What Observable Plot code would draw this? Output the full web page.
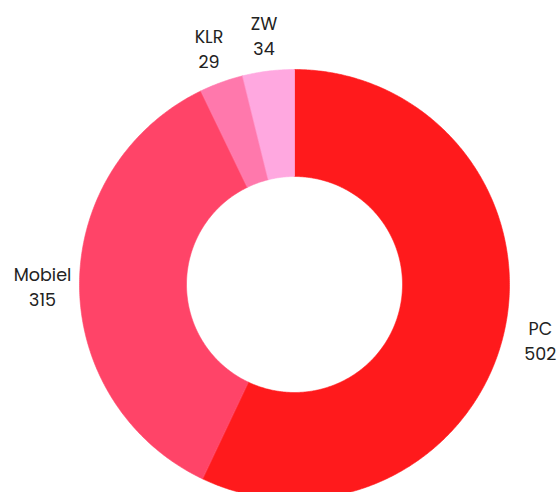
<!DOCTYPE html>
<html>
<head>
<meta charset="utf-8">
<script src="https://cdn.jsdelivr.net/npm/d3@7"></script>
<script src="https://cdn.jsdelivr.net/npm/@observablehq/plot@0.6"></script>
<style>
  html, body { margin: 0; padding: 0; background: #fff; }
  svg { display: block; }
</style>
</head>
<body>
<div id="chart"></div>
<script>
const categories = ["PC", "Mobiel", "KLR", "ZW"];
const values = [502, 315, 29, 34];
const colors = ["#ff1a1c", "#ff4468", "#ff78ac", "#ffa8e0"];

const W = 558, H = 492;
const cx = 294, cy = 284, R = 215, innerRatio = 108 / 215, labelRatio = 1.172;

const total = d3.sum(values);
let acc = 0;
const slices = categories.map((c, i) => {
  const a0 = acc / total * 2 * Math.PI;
  acc += values[i];
  const a1 = acc / total * 2 * Math.PI;
  return {cat: c, value: values[i], a0, a1};
});

const pts = [];
for (const s of slices) {
  const n = Math.max(4, Math.ceil((s.a1 - s.a0) / (Math.PI / 360)));
  for (let k = 0; k <= n; k++) {
    const a = s.a0 + (s.a1 - s.a0) * k / n;
    pts.push({cat: s.cat, x: Math.sin(a), y: Math.cos(a)});
  }
  for (let k = n; k >= 0; k--) {
    const a = s.a0 + (s.a1 - s.a0) * k / n;
    pts.push({cat: s.cat, x: innerRatio * Math.sin(a), y: innerRatio * Math.cos(a)});
  }
}

const labels = slices.map(s => {
  const m = (s.a0 + s.a1) / 2;
  return {cat: s.cat, text: `${s.cat}\n${s.value}`, x: labelRatio * Math.sin(m), y: labelRatio * Math.cos(m)};
});

const chart = Plot.plot({
  width: W,
  height: H,
  margin: 0,
  x: {domain: [-cx / R, (W - cx) / R], axis: null},
  y: {domain: [-(H - cy) / R, cy / R], axis: null},
  color: {domain: categories, range: colors},
  style: {fontFamily: "Poppins, Inter, 'Open Sans', sans-serif", background: "#fff"},
  marks: [
    Plot.line(pts, {x: "x", y: "y", z: "cat", fill: "cat", stroke: "cat", strokeWidth: 0.6, curve: "linear-closed"}),
    Plot.text(labels, {x: "x", y: "y", text: "text", fontSize: 17.5, lineHeight: 1.43, fill: "#222"})
  ]
});
document.getElementById("chart").appendChild(chart);
</script>
</body>
</html>
